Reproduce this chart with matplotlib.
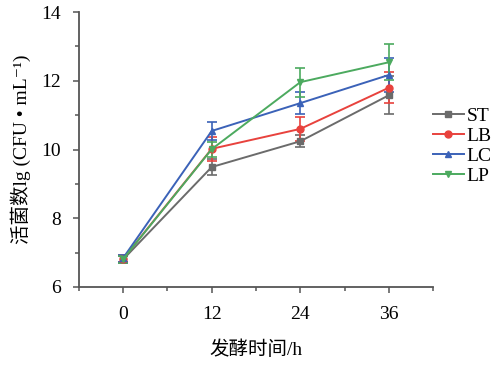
import matplotlib.pyplot as plt
from matplotlib.ticker import MultipleLocator

plt.rcParams['font.family'] = ['Liberation Serif', 'Noto Sans CJK SC', 'DejaVu Sans']

# 发酵时间 (h)
hours = [0, 12, 24, 36]

# 活菌数 lg(CFU/mL) 与误差
names = ['ST', 'LB', 'LC', 'LP']
st = [6.80, 9.49, 10.24, 11.58]
lb = [6.82, 10.02, 10.60, 11.80]
lc = [6.84, 10.54, 11.35, 12.17]
lp = [6.81, 10.01, 11.96, 12.54]
st_err = [0.10, 0.22, 0.17, 0.55]
lb_err = [0.10, 0.35, 0.35, 0.45]
lc_err = [0.10, 0.26, 0.32, 0.50]
lp_err = [0.10, 0.22, 0.42, 0.52]

colors = ['#6b6b6b', '#e8423d', '#3b62b8', '#4caa5f']
markers = ['s', 'o', '^', 'v']

fig = plt.figure(figsize=(5.02, 3.66), dpi=100)
ax = fig.add_axes([0.157, 0.216, 0.706, 0.751])

series = [st, lb, lc, lp]
errs = [st_err, lb_err, lc_err, lp_err]
handles = []
for name, y, e, c, m in zip(names, series, errs, colors, markers):
    cont = ax.errorbar(hours, y, yerr=e, color=c, marker=m, markersize=5,
                       linewidth=1.4, elinewidth=1.2, capsize=3.5,
                       capthick=1.2, label=name)
    handles.append(cont[0])

ax.set_xlim(-6, 42)
ax.set_ylim(6, 14)
ax.set_xticks(hours)
ax.xaxis.set_minor_locator(MultipleLocator(6))
ax.yaxis.set_major_locator(MultipleLocator(2))
ax.yaxis.set_minor_locator(MultipleLocator(1))
ax.spines['top'].set_visible(False)
ax.spines['right'].set_visible(False)
for s in ['left', 'bottom']:
    ax.spines[s].set_color('#555555')
    ax.spines[s].set_linewidth(1.3)
ax.tick_params(which='both', direction='out', color='#555555', width=1.1)
ax.tick_params(which='major', length=4, labelsize=14)
ax.tick_params(axis='x', which='major', pad=10)
ax.tick_params(axis='y', which='major', pad=9)
ax.tick_params(which='minor', length=3)

ax.set_xlabel('发酵时间/h', fontsize=14, labelpad=12)
ax.set_ylabel('活菌数lg (CFU • mL⁻¹)', fontsize=14, labelpad=7)

fig.legend(handles, names, loc='center left', bbox_to_anchor=(0.862, 0.60),
           frameon=False, fontsize=14, handlelength=1.6, handletextpad=0.15,
           labelspacing=0.12, borderpad=0, borderaxespad=0)

fig.savefig('out.png', dpi=100)
